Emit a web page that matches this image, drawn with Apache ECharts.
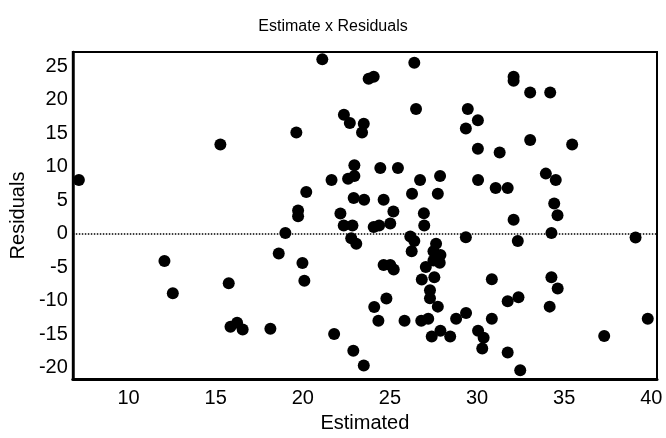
<!DOCTYPE html>
<html>
<head>
<meta charset="utf-8">
<script src="https://cdn.jsdelivr.net/npm/echarts@6/dist/echarts.min.js"></script>
<style>
  html, body { margin: 0; padding: 0; background: #fff; }
  #chart { width: 666px; height: 438px; }
</style>
</head>
<body>
<div id="chart"></div>
<script>
var estimated = [
  7.15, 12.06, 12.54, 15.27, 15.75, 15.85, 16.23, 16.55, 18.14, 18.62,
  19.0, 19.63, 19.73, 19.73, 19.98, 20.09, 20.2, 21.12, 21.65, 21.8,
  22.16, 22.36, 22.7, 22.35, 22.85, 22.78, 23.07, 22.9, 23.5, 22.6,
  22.96, 22.96, 22.92, 23.52, 23.5, 23.4, 23.78, 24.07, 24.07, 24.38,
  25.02, 24.45, 25.46, 24.64, 25.2, 24.64, 25.02, 25.22, 24.8, 24.1,
  24.34, 25.84, 26.4, 26.5, 26.73, 26.27, 26.95, 26.97, 26.17, 26.4,
  26.25, 27.06, 26.83, 26.8, 27.2, 27.88, 27.75, 27.65, 27.5, 27.9,
  27.86, 27.5, 27.55, 27.3, 27.3, 27.75, 27.4, 27.9, 28.46, 28.8,
  29.37, 29.47, 30.05, 29.36, 30.05, 31.3, 30.06, 31.07, 31.76, 29.36,
  30.85, 30.85, 30.06, 30.38, 30.3, 31.76, 31.76, 32.38, 32.48, 32.1,
  32.1, 33.05, 34.2, 33.05, 35.46, 33.95, 34.52, 34.43, 34.62, 32.1,
  34.27, 32.34, 34.27, 34.63, 34.17, 37.3, 39.1, 39.8
];
var residuals = [
  8.0, -4.1, -8.9, 13.3, -7.4, -13.9, -13.3, -14.3, -14.2, -2.96,
  0.1, 15.1, 3.45, 2.6, -4.4, -7.05, 6.2, 26.0, 8.0, -15.0,
  3.0, 17.75, 16.5, 1.2, 1.2, -0.7, -1.5, -17.5, -19.7, 8.2,
  8.6, 10.2, 5.3, 5.05, 16.4, 15.1, 23.1, 23.4, 1.0, 1.2,
  1.5, 9.8, 9.8, 5.05, 3.3, -4.7, -4.7, -5.35, -9.7, -10.95,
  -13.0, -13.0, 25.5, 18.6, 8.0, 5.95, 3.05, 1.2, -0.45, -1.1,
  -2.65, -5.0, -6.85, -13.0, -12.7, 8.6, 5.95, -1.5, -2.65, -3.2,
  -4.35, -4.0, -6.5, -8.45, -9.65, -10.9, -15.35, -14.5, -15.35, -12.7,
  -11.85, 18.6, 16.9, 15.7, 12.65, 12.1, 8.0, 6.8, 6.8, -0.55,
  -6.8, -12.7, -14.5, -15.55, -17.15, -17.75, -10.1, -9.5, -20.4, 23.4,
  22.8, 21.05, 21.05, 13.95, 13.3, 8.95, 8.0, 4.5, 2.75, 2.07,
  0.1, -1.1, -6.5, -8.2, -10.9, -15.3, -0.6, -12.7
];
var xTicks = [10, 15, 20, 25, 30, 35, 40];
var yTicks = [-20, -15, -10, -5, 0, 5, 10, 15, 20, 25];

var points = estimated.map(function (x, i) { return [x, residuals[i]]; });

var font = 'Liberation Sans, Arial, sans-serif';
var option = {
  animation: false,
  title: {
    text: 'Estimate x Residuals',
    left: 'center',
    top: 14,
    textStyle: { fontFamily: font, fontSize: 16, fontWeight: 'normal', color: '#000' }
  },
  grid: {
    left: 72, right: 9, top: 52, bottom: 56,
    show: true,
    borderColor: '#000',
    borderWidth: 2
  },
  xAxis: {
    type: 'value',
    min: 6.8,
    max: 40.33,
    name: 'Estimated',
    nameLocation: 'middle',
    nameGap: 34,
    nameTextStyle: { fontFamily: font, fontSize: 20, color: '#000' },
    axisLine: { show: true, onZero: false, lineStyle: { color: '#000', width: 3 } },
    axisTick: { show: false },
    splitLine: { show: false },
    axisLabel: {
      customValues: xTicks,
      margin: 9,
      fontFamily: font, fontSize: 20, color: '#000'
    }
  },
  yAxis: {
    type: 'value',
    min: -21.7,
    max: 27.1,
    name: 'Residuals',
    nameLocation: 'middle',
    nameGap: 39,
    nameTextStyle: { fontFamily: font, fontSize: 20, color: '#000' },
    axisLine: { show: true, onZero: false, lineStyle: { color: '#000', width: 2.5 } },
    axisTick: { show: false },
    splitLine: { show: false },
    axisLabel: {
      customValues: yTicks,
      margin: 5,
      fontFamily: font, fontSize: 20, color: '#000'
    }
  },
  series: [{
    type: 'scatter',
    data: points,
    symbol: 'circle',
    symbolSize: 12,
    itemStyle: { color: '#000', opacity: 1 },
    markLine: {
      silent: true,
      symbol: 'none',
      label: { show: false },
      lineStyle: { color: '#000', type: 'dotted', width: 1.5 },
      data: [{ yAxis: 0 }]
    }
  }]
};

var chart = echarts.init(document.getElementById('chart'));
chart.setOption(option);
</script>
</body>
</html>
